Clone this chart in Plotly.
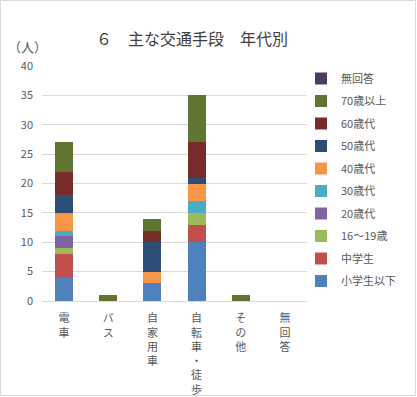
import plotly.graph_objects as go

categories = ["電車", "バス", "自家用車", "自転車・徒歩", "その他", "無回答"]
series_names = ["小学生以下", "中学生", "16～19歳", "20歳代", "30歳代", "40歳代", "50歳代", "60歳代", "70歳以上", "無回答"]
v_shogaku = [4, 0, 3, 10, 0, 0]
v_chugaku = [4, 0, 0, 3, 0, 0]
v_16_19 = [1, 0, 0, 2, 0, 0]
v_20s = [2, 0, 0, 0, 0, 0]
v_30s = [1, 0, 0, 2, 0, 0]
v_40s = [3, 0, 2, 3, 0, 0]
v_50s = [3, 0, 5, 1, 0, 0]
v_60s = [4, 0, 2, 6, 0, 0]
v_70s = [5, 1, 2, 8, 1, 0]
v_none = [0, 0, 0, 0, 0, 0]
series_values = [v_shogaku, v_chugaku, v_16_19, v_20s, v_30s, v_40s, v_50s, v_60s, v_70s, v_none]
colors = ["#4F81BD", "#C0504D", "#9BBB59", "#8064A2", "#4BACC6", "#F79646", "#2C4D75", "#772C2A", "#5F7530", "#4D3B62"]
y_ticks = [0, 5, 10, 15, 20, 25, 30, 35, 40]

tick_text = ["<br>".join(list(c)) for c in categories]

fig = go.Figure()
for i, (name, vals, col) in enumerate(zip(series_names, series_values, colors)):
    fig.add_trace(go.Bar(x=categories, y=vals, name=name, marker=dict(color=col, line=dict(width=0)),
                         legendgroup=name, legendrank=1000 - i, width=0.41))

W, H = 417, 397
ml, mr, mt, mb = 42, 110, 66, 96
pw, ph = W - ml - mr, H - mt - mb

fig.update_layout(
    width=W, height=H,
    barmode="stack",
    margin=dict(l=ml, r=mr, t=mt, b=mb, autoexpand=False),
    paper_bgcolor="white", plot_bgcolor="white",
    font=dict(family="Noto Sans CJK JP, sans-serif", color="#595959", size=11),
    title=dict(text="６　主な交通手段　年代別", x=192 / W, xanchor="center", y=1 - 39 / H, yanchor="middle",
               font=dict(size=16, color="#404040")),
    showlegend=True,
    legend=dict(traceorder="grouped", tracegroupgap=3.5, x=(301 - ml) / pw, xanchor="left",
                y=(H - mb - 64) / ph, yanchor="top", font=dict(size=11, color="#595959"),
                itemwidth=30, bgcolor="rgba(0,0,0,0)", maxheight=390),
    xaxis=dict(tickmode="array", tickvals=categories, ticktext=tick_text, showline=True, linecolor="#D9D9D9",
               ticks="", tickangle=0, tickfont=dict(size=11), fixedrange=True, automargin=False,
               ticklabelstandoff=7),
    yaxis=dict(range=[0, 40], tickvals=y_ticks, showgrid=True, gridcolor="#D9D9D9", zeroline=False,
               showline=False, tickfont=dict(size=11), ticks="", automargin=False, fixedrange=True,
               ticklabelstandoff=8),
    annotations=[dict(text="（人）", x=(6 - ml) / pw, xref="paper", y=(H - mb - 46) / ph, yref="paper",
                      showarrow=False, xanchor="left", yanchor="middle", font=dict(size=13, color="#595959"))],
    shapes=[dict(type="rect", xref="paper", yref="paper",
                 x0=(0.5 - ml) / pw, x1=(W - 1.5 - ml) / pw, y0=-(mb - 1.5) / ph, y1=1 + (mt - 0.5) / ph,
                 line=dict(color="#D9D9D9", width=1), fillcolor="rgba(0,0,0,0)")],
)
fig.write_html("out.html", config={"displayModeBar": False},
               post_script="document.body.style.margin='0';document.body.style.overflow='hidden';")
